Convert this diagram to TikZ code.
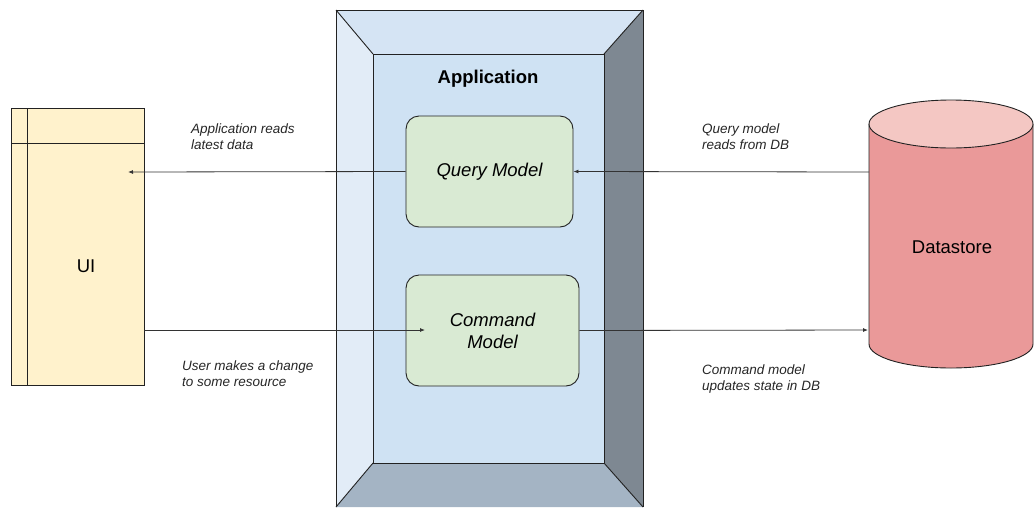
\documentclass[tikz,border=0pt]{standalone}
\usepackage{fontspec}
\setmainfont{Liberation Sans}
\usetikzlibrary{arrows.meta}
\definecolor{uifill}{HTML}{FFF2CC}
\definecolor{frtop}{HTML}{D5E4F4}
\definecolor{frleft}{HTML}{E2ECF7}
\definecolor{frright}{HTML}{7E8892}
\definecolor{frbottom}{HTML}{A4B4C4}
\definecolor{frinner}{HTML}{CFE2F3}
\definecolor{modelfill}{HTML}{D9EAD3}
\definecolor{dsside}{HTML}{EA9999}
\definecolor{dstop}{HTML}{F4C7C3}
\definecolor{edge}{HTML}{222222}
\definecolor{arrowc}{HTML}{333333}
\begin{document}
\begin{tikzpicture}[x=1pt,y=-1pt,
  shapeline/.style={draw=edge, line width=0.9pt},
  model/.style={shapeline, fill=modelfill, rounded corners=13pt, align=center,
    font=\itshape\fontsize{18.5}{22}\selectfont, inner sep=0pt},
  lbl/.style={anchor=north west, align=left, inner sep=0pt,
    font=\itshape\fontsize{13.5}{16}\selectfont, text=black!85},
  arr/.style={draw=arrowc, line width=0.8pt, -{Latex[length=5pt,width=4pt]}},
  plain/.style={draw=arrowc, line width=0.8pt}]
\useasboundingbox (0,0) rectangle (1034,507);

% UI box
\node[shapeline, fill=uifill, minimum width=133pt, minimum height=277pt, inner sep=0pt] (ui) at (77.5,246.5) {};
\draw[shapeline] (27,108) -- (27,385);
\draw[shapeline] (11,143) -- (144,143);
\node[font=\fontsize{18.5}{22}\selectfont] (uitext) at (86,266) {UI};

% Application frame
\fill[frtop] (336,10) -- (643,10) -- (604,54) -- (373,54) -- cycle;
\fill[frleft] (336,10) -- (373,54) -- (373,463) -- (336,507) -- cycle;
\fill[frright] (643,10) -- (643,507) -- (604,463) -- (604,54) -- cycle;
\fill[frbottom] (336,507) -- (373,463) -- (604,463) -- (643,507) -- cycle;
\node[shapeline, fill=frinner, minimum width=231pt, minimum height=409pt, inner sep=0pt] (inner) at (488.5,258.5) {};
\draw[shapeline] (336,507) -- (336,10) -- (643,10) -- (643,507);
\draw[shapeline] (336,10) -- (373,54);
\draw[shapeline] (643,10) -- (604,54);
\draw[shapeline] (336,507) -- (373,463);
\draw[shapeline] (643,507) -- (604,463);
\node[font=\bfseries\fontsize{18.5}{22}\selectfont] (apptitle) at (488,79) {Application};

% Models
\node[model, minimum width=167pt, minimum height=111pt] (qm) at (489.5,171.5) {Query Model};
\node[model, minimum width=173pt, minimum height=111pt] (cm) at (492.5,330.5) {Command\\Model};

% Datastore cylinder
\path[fill=dsside, shapeline] (869,124) -- (869,344) arc[start angle=180, end angle=360, x radius=82pt, y radius=24pt] -- (1033,124);
\path[fill=dstop, shapeline] (951,124) ellipse[x radius=82pt, y radius=24pt];
\node[font=\fontsize{18.5}{22}\selectfont] (ds) at (952,247) {Datastore};

% connector end points
\coordinate (uiin) at (128,172);
\coordinate (uiout) at (144,330);
\coordinate (cmin) at (425,330);
\coordinate (dsout) at (869,172);
\coordinate (dsin) at (868,330);

\draw[arr] (qm.west) -- (uiin);
\draw[arr] (dsout) -- (qm.east);
\draw[arr] (uiout) -- (cmin);
\draw[arr] (cm.east) -- (dsin);

% Labels
\node[lbl] (l1) at (191,124) {Application reads\\latest data};
\node[lbl] (l2) at (182,361) {User makes a change\\to some resource};
\node[lbl] (l3) at (702,124) {Query model\\reads from DB};
\node[lbl] (l4) at (702,365) {Command model\\updates state in DB};
\end{tikzpicture}
\end{document}
